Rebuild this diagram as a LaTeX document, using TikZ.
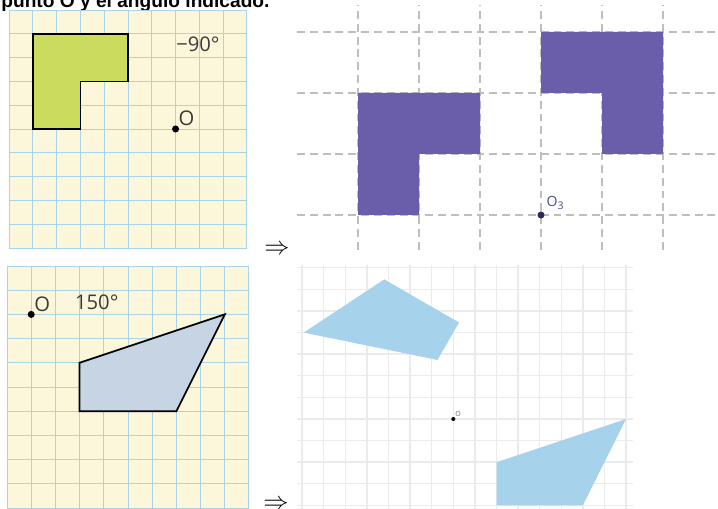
\documentclass[tikz,border=0pt]{standalone}
\usepackage{fontspec}
\setmainfont{Open Sans}
\newfontfamily\titlefont{Liberation Sans}
\usetikzlibrary{positioning}
\definecolor{paper}{HTML}{FCF6DA}
\definecolor{paperline}{HTML}{A8D3E8}
\definecolor{lime}{HTML}{CADB5E}
\definecolor{purplefig}{HTML}{6A5DAA}
\definecolor{purpledot}{HTML}{2D2B5E}
\definecolor{purplelbl}{HTML}{4B4B8B}
\definecolor{quadgray}{HTML}{C6D4E3}
\definecolor{skyfig}{HTML}{A6D2EC}
\definecolor{dashgray}{HTML}{BEBEBE}
\definecolor{textgray}{HTML}{3A3A3A}

\begin{document}
\begin{tikzpicture}[
  x=0.02cm, y=0.02cm,
  gridline/.style={draw=paperline, line width=0.5pt, step=1},
  faintgrid/.style={draw=black!8, line width=0.8pt, step=1},
  dashline/.style={draw=dashgray, line width=0.6pt, dash pattern=on 4.5pt off 2.8pt},
  figure/.style={draw=black, line width=1pt, line join=miter},
  dot/.style={circle, fill=#1, inner sep=0pt, minimum size=4pt},
  dot/.default=black,
  lbl/.style={font=\fontsize{11.5}{12}\selectfont, text=textgray, inner sep=0pt},
  imply/.style={font=\fontsize{15}{15}\selectfont, inner sep=0pt}
]
  \useasboundingbox (0,0) rectangle (718,509);

  % Title (cut at the top)
  \node[anchor=base west, inner sep=0pt, font=\titlefont\bfseries\fontsize{10.9}{12}\selectfont] (title) at (1,501) {punto O y el ángulo indicado.};

  % Figure 1: L shape, -90 degrees
  \begin{scope}[shift={(9,261)}, scale=23.8]
    \fill[paper] (0,0) rectangle (10,10);
    \draw[gridline] (0,0) grid (10,10);
    \draw[figure, fill=lime] (1,9) -- (5,9) -- (5,7) -- (3,7) -- (3,5) -- (1,5) -- cycle;
    \node[dot] (o1) at (7,5) {};
    \node[lbl, above right=0pt and 0pt of o1] (o1lbl) {O};
    \node[lbl] (ang1) at (7.94,8.55) {−90°};
  \end{scope}

  % Solution 1
  \begin{scope}[shift={(541,294)}, scale=61]
    \foreach \k in {-3,...,2}
      \draw[dashline] (\k,-0.57) -- (\k,3.44);
    \foreach \k in {0,...,3}
      \draw[dashline] (-4,\k) -- (2.9,\k);
    \fill[purplefig] (-3,2) -- (-1,2) -- (-1,1) -- (-2,1) -- (-2,0) -- (-3,0) -- cycle;
    \fill[purplefig] (0,3) -- (2,3) -- (2,1) -- (1,1) -- (1,2) -- (0,2) -- cycle;
    \node[dot=purpledot] (o3) at (0,0) {};
    \node[font=\fontsize{8}{8}\selectfont, text=purplelbl, inner sep=0pt, above right=1.5pt and 1.5pt of o3] (o3lbl) {O\textsubscript{3}};
  \end{scope}

  % Figure 2: quadrilateral, 150 degrees
  \begin{scope}[shift={(7,1)}, scale=24.2]
    \fill[paper] (0,0) rectangle (10,10);
    \draw[gridline] (0,0) grid (10,10);
    \draw[figure, fill=quadgray] (3,6) -- (9,8) -- (7,4) -- (3,4) -- cycle;
    \node[dot] (o2) at (1,8) {};
    \node[lbl, above right=0pt and 0pt of o2] (o2lbl) {O};
    \node[lbl] (ang2) at (3.71,8.52) {150°};
  \end{scope}

  % Solution 2
  \begin{scope}[shift={(453.3,90)}, scale=21.6]
    \draw[faintgrid] (-7.22,-4.2) grid (8.33,7.13);
    \fill[skyfig] (2,-2) -- (8,0) -- (6,-4) -- (2,-4) -- cycle;
    \fill[skyfig, rotate=150] (2,-2) -- (8,0) -- (6,-4) -- (2,-4) -- cycle;
    \node[dot, minimum size=2.3pt] (o4) at (0,0) {};
    \node[font=\fontsize{4}{4}\selectfont, text=black!60, inner sep=0pt, above right=0.3pt and 0pt of o4] (o4lbl) {O};
  \end{scope}

  % Arrows
  \node[imply] (arr1) at (277,259) {$\Rightarrow$};
  \node[imply] (arr2) at (276,4) {$\Rightarrow$};
\end{tikzpicture}
\end{document}
